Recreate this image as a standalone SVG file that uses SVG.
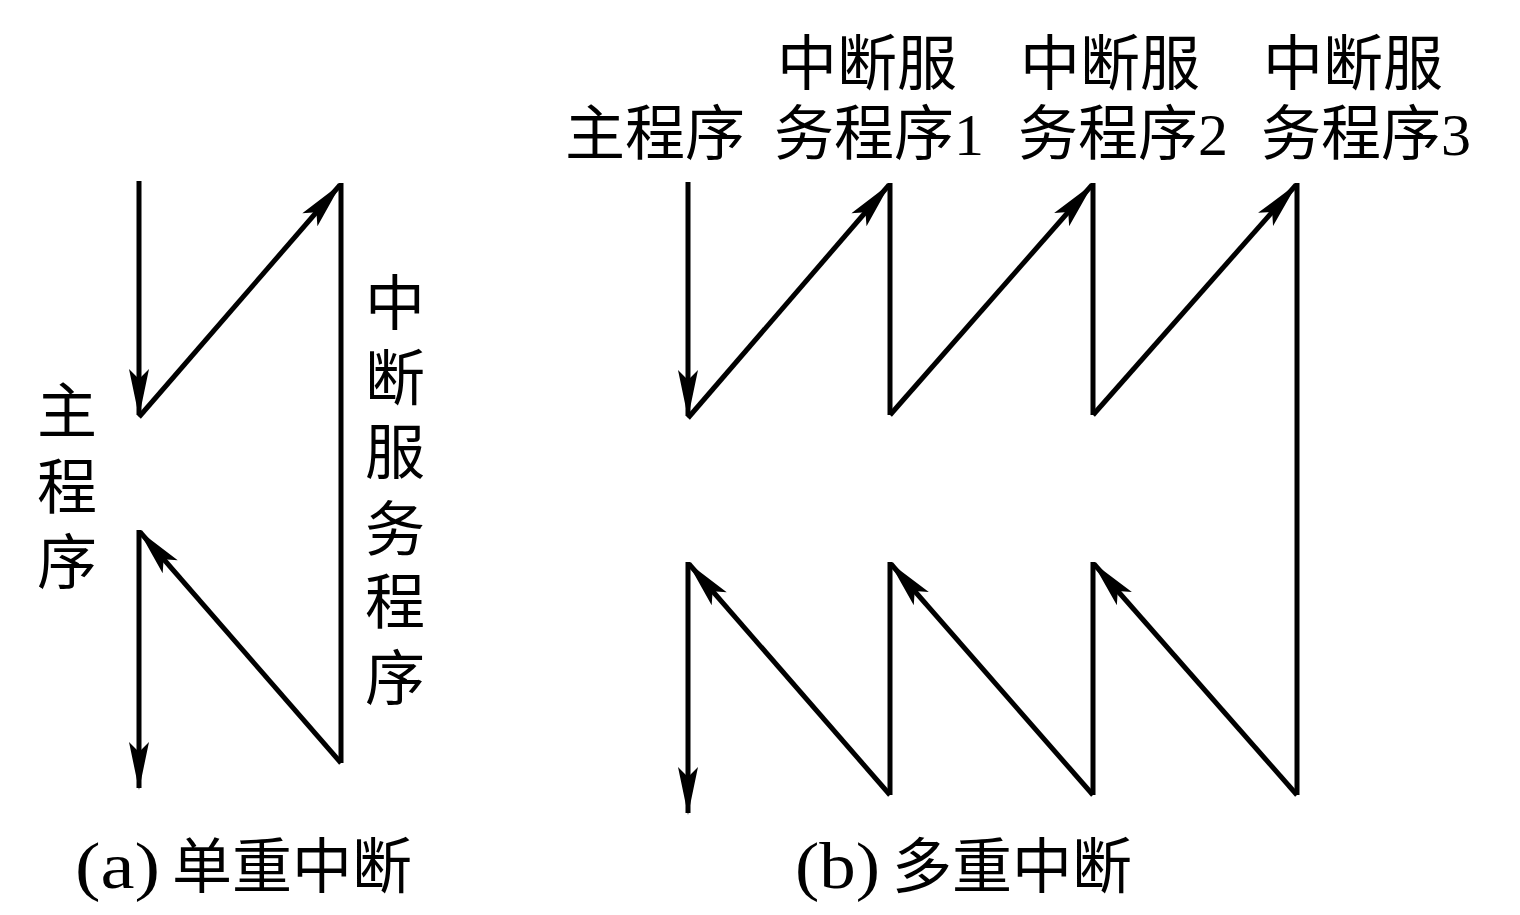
<svg xmlns="http://www.w3.org/2000/svg" width="1520" height="915" viewBox="0 0 1520 915">
<style>
.ln{stroke:#000;stroke-width:5;fill:none;stroke-linecap:butt}
.ar{marker-end:url(#ah)}
text{font-family:"Liberation Serif","Noto Sans CJK SC",serif;font-size:60px;fill:#000}
.c{text-anchor:middle}
</style>
<defs>
<marker id="ah" markerUnits="userSpaceOnUse" markerWidth="56" markerHeight="24" viewBox="-52 -12 56 24" refX="0" refY="0" orient="auto">
<path d="M2,0 L-46,-10 L-36,0 L-46,10 Z" fill="#000"/>
</marker>
</defs>
<rect width="1520" height="915" fill="#fff"/>
<g id="connectors">
<line class="ln ar" x1="139" y1="181" x2="139" y2="415"/>
<line class="ln ar" x1="139" y1="417" x2="340" y2="185"/>
<line class="ln" x1="341" y1="183" x2="341" y2="763"/>
<line class="ln ar" x1="341" y1="763" x2="140" y2="532"/>
<line class="ln ar" x1="139" y1="530" x2="139" y2="788"/>

<line class="ln ar" x1="688" y1="182" x2="688" y2="416"/>
<line class="ln ar" x1="688" y1="418" x2="889" y2="185"/>
<line class="ln" x1="890" y1="183" x2="890" y2="415"/>
<line class="ln ar" x1="890" y1="415" x2="1092" y2="185"/>
<line class="ln" x1="1093" y1="183" x2="1093" y2="415"/>
<line class="ln ar" x1="1093" y1="415" x2="1296" y2="185"/>
<line class="ln" x1="1297" y1="183" x2="1297" y2="795"/>
<line class="ln ar" x1="1297" y1="795" x2="1094" y2="564"/>
<line class="ln" x1="1093" y1="562" x2="1093" y2="795"/>
<line class="ln ar" x1="1093" y1="795" x2="891" y2="564"/>
<line class="ln" x1="890" y1="562" x2="890" y2="795"/>
<line class="ln ar" x1="890" y1="795" x2="689" y2="564"/>
<line class="ln ar" x1="688" y1="562" x2="688" y2="813"/>
</g>
<g id="label-a-main">
<text class="c" x="67" y="433">主</text>
<text class="c" x="67" y="509">程</text>
<text class="c" x="67" y="584">序</text>
</g>
<g id="label-a-isr">
<text class="c" x="395" y="325">中</text>
<text class="c" x="395" y="400">断</text>
<text class="c" x="395" y="474">服</text>
<text class="c" x="395" y="551">务</text>
<text class="c" x="395" y="624">程</text>
<text class="c" x="395" y="700">序</text>
</g>
<g id="label-b-main">
<text class="c" x="655" y="155">主程序</text>
</g>
<g id="label-b-isr1">
<text class="c" x="867" y="85">中断服</text>
<text class="c" x="879" y="155">务程序1</text>
</g>
<g id="label-b-isr2">
<text class="c" x="1110" y="85">中断服</text>
<text class="c" x="1123" y="155">务程序2</text>
</g>
<g id="label-b-isr3">
<text class="c" x="1353" y="85">中断服</text>
<text class="c" x="1366" y="155">务程序3</text>
</g>
<g id="caption-a">
<text x="75" y="888"><tspan style="font-size:66px" textLength="85" lengthAdjust="spacingAndGlyphs">(a)</tspan><tspan x="172">单重中断</tspan></text>
</g>
<g id="caption-b">
<text x="795" y="888"><tspan style="font-size:66px" textLength="85" lengthAdjust="spacingAndGlyphs">(b)</tspan><tspan x="892">多重中断</tspan></text>
</g>
</svg>
